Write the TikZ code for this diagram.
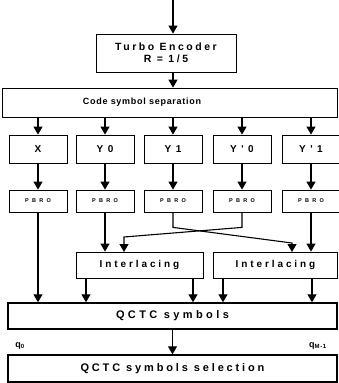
\documentclass[tikz,border=0pt]{standalone}
\usepackage{fontspec}
\usepackage{tikz}
\usetikzlibrary{arrows.meta,calc}
\newfontfamily\labfont{Liberation Sans}
\newcommand{\spaced}[2]{\labfont\bfseries\fontsize{#1}{#1}\selectfont\addfontfeature{LetterSpace=#2}}

\begin{document}
\begin{tikzpicture}[
  x=1pt, y=-1pt,
  box/.style={rectangle, draw=black, line width=0.8pt, fill=white, inner sep=0pt, align=center},
  bar/.style={box, line width=1.4pt},
  sym_box/.style={box, minimum width=58, minimum height=28, font={\spaced{10}{45}}},
  pbro_box/.style={box, minimum width=58, minimum height=22, font={\spaced{5.5}{61}}},
  inter_box/.style={box, minimum height=26, font={\spaced{10}{29}}},
  label_style/.style={font={\spaced{9}{10}}, inner sep=0pt},
  arrow/.style={-{Triangle[length=8pt,width=9pt]}, line width=1.1pt}
]
\useasboundingbox (0,0) rectangle (338,383);

% Encoder
\coordinate (in) at (173,0);
\node[box, minimum width=140, minimum height=38, font={\spaced{10.5}{24}}] (enc) at (166,53) {Turbo Encoder\\[1pt]R = 1/5};

% Separation bar
\node[box, minimum width=335, minimum height=29] (sep) at (169.5,102.5) {};
\node[font={\spaced{9}{8}}, inner sep=0pt] (septxt) at (142,102.5) {Code symbol separation};

\draw[arrow] (in) -- (in |- enc.north);
\draw[arrow] (in |- enc.south) -- (in |- sep.north);

% Symbol streams
\node[sym_box] (bx1) at (38,149) {X};
\node[sym_box] (bx2) at (105,149) {Y0};
\node[sym_box] (bx3) at (173,149) {Y1};
\node[sym_box] (bx4) at (242,149) {Y'0};
\node[sym_box] (bx5) at (311,149) {Y'1};

% PBRO blocks
\foreach \i/\x in {1/38,2/105,3/173,4/242,5/311}
  \node[pbro_box] (pb\i) at (\x,201) {PBRO};

\foreach \i in {1,...,5} {
  \draw[arrow] (sep.south -| bx\i) -- (bx\i.north);
  \draw[arrow] (bx\i.south) -- (pb\i.north);
}

% Interlacing
\node[inter_box, minimum width=127] (il1) at (139.5,265) {Interlacing};
\node[inter_box, minimum width=124] (il2) at (275.5,265) {Interlacing};

% QCTC bars
\node[bar, minimum width=329, minimum height=26, font={\spaced{11}{31}}] (qctc) at (172.5,316) {QCTC symbols};
\node[bar, minimum width=329, minimum height=27, font={\spaced{11}{26}}] (sel) at (172.5,368.5) {QCTC symbols selection};

% Interlacer inputs and outputs
\coordinate (in1b) at (124,252);
\coordinate (in2a) at (292,252);
\coordinate (o1) at (86,0);
\coordinate (o2) at (193,0);
\coordinate (o3) at (223,0);
\coordinate (o4) at (312,0);

\draw[arrow] (pb1.south) -- (qctc.north -| pb1);
\draw[arrow] (pb2.south) -- (il1.north -| pb2);
\draw[arrow] (pb5.south) -- (il2.north -| pb5);
\draw[arrow] (pb3.south) -- ++(0,15) -- ($(in2a)+(0,-9)$) -- (in2a);
\draw[arrow] (pb4.south) -- ++(0,15) -- ($(in1b)+(0,-15)$) -- (in1b);

\draw[arrow] (il1.south -| o1) -- (qctc.north -| o1);
\draw[arrow] (il1.south -| o2) -- (qctc.north -| o2);
\draw[arrow] (il2.south -| o3) -- (qctc.north -| o3);
\draw[arrow] (il2.south -| o4) -- (qctc.north -| o4);

\draw[arrow] (qctc.south) -- (sel.north);

% Side labels
\node[label_style] (q0) at (20,346) {q\textsubscript{0}};
\node[label_style] (qm) at (318,346) {q\textsubscript{M-1}};

\end{tikzpicture}
\end{document}
